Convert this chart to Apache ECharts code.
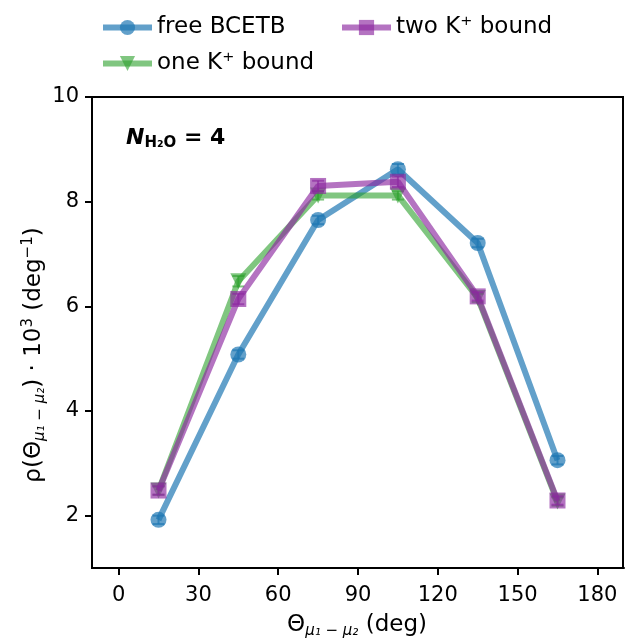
<!DOCTYPE html>
<html><head><meta charset="utf-8">
<script src="https://cdn.jsdelivr.net/npm/echarts@6/dist/echarts.min.js"></script>
<style>html,body{margin:0;padding:0;background:#fff}#c{width:626px;height:639px}</style>
</head><body><div id="c"></div>
<script>
const angles = [15, 45, 75, 105, 135, 165];
const freeVals = [1.92, 5.08, 7.65, 8.62, 7.21, 3.06];
const freeErr = [0.08, 0.08, 0.08, 0.1, 0.08, 0.08];
const oneVals = [2.48, 6.48, 8.12, 8.12, 6.16, 2.27];
const oneErr = [0.08, 0.1, 0.08, 0.08, 0.08, 0.08];
const twoVals = [2.48, 6.14, 8.30, 8.38, 6.19, 2.29];
const twoErr = [0.08, 0.1, 0.1, 0.1, 0.08, 0.08];
const xTicks = [0, 30, 60, 90, 120, 150, 180];
const yTicks = [2, 4, 6, 8, 10];
const seriesNames = ['free BCETB', 'one K⁺ bound', 'two K⁺ bound'];

const FONT = 'DejaVu Sans';
const colors = ['#1f77b4', '#2ca02c', '#8c28a0'];
const alphas = [0.7, 0.6, 0.65];
const symbols = ['circle', 'triangle', 'rect'];
const rots = [0, 180, 0];
const sizes = [16, 16, 16];

const chart = echarts.init(document.getElementById('c'), null, {renderer: 'canvas'});

function pairs(vals) { return angles.map((a, i) => [a, vals[i]]); }
function errData(vals, errs) { return angles.map((a, i) => [a, vals[i] - errs[i], vals[i] + errs[i]]); }

const allVals = [freeVals, oneVals, twoVals];
const allErr = [freeErr, oneErr, twoErr];

const series = [];
for (let k = 0; k < 3; k++) {
  series.push({
    type: 'custom',
    name: seriesNames[k] + ' err',
    data: errData(allVals[k], allErr[k]),
    z: 2 + k,
    silent: true,
    renderItem: function (params, api) {
      const x = api.value(0);
      const lo = api.coord([x, api.value(1)]);
      const hi = api.coord([x, api.value(2)]);
      const w = 6;
      const st = {stroke: colors[k], lineWidth: 2, opacity: alphas[k]};
      return {
        type: 'group',
        children: [
          {type: 'line', shape: {x1: lo[0], y1: lo[1], x2: hi[0], y2: hi[1]}, style: st},
          {type: 'line', shape: {x1: lo[0] - w, y1: lo[1], x2: lo[0] + w, y2: lo[1]}, style: st},
          {type: 'line', shape: {x1: hi[0] - w, y1: hi[1], x2: hi[0] + w, y2: hi[1]}, style: st}
        ]
      };
    }
  });
  series.push({
    type: 'line',
    name: seriesNames[k],
    data: pairs(allVals[k]),
    z: 2 + k,
    symbol: symbols[k],
    symbolSize: sizes[k],
    symbolRotate: rots[k],
    showAllSymbol: true,
    lineStyle: {color: colors[k], width: 6, opacity: alphas[k]},
    itemStyle: {color: colors[k], opacity: alphas[k], borderWidth: 0},
    emphasis: {disabled: true},
    animation: false
  });
}

const legendText = {fontFamily: FONT, fontSize: 23, color: '#000'};
const legendCommon = {
  orient: 'vertical', top: 16, padding: 0, itemWidth: 49, itemHeight: 19, itemGap: 13,
  textStyle: legendText, lineStyle: {width: 6}, selectedMode: false
};

chart.setOption({
  animation: false,
  backgroundColor: '#fff',
  grid: {left: 92, right: 2, top: 97, bottom: 71, containLabel: false},
  legend: [
    Object.assign({data: [seriesNames[0], seriesNames[1]], left: 100}, legendCommon),
    Object.assign({data: [seriesNames[2]], left: 339}, legendCommon)
  ],
  xAxis: {
    type: 'value', min: -10, max: 190,
    axisLine: {show: true, onZero: false, lineStyle: {color: '#000', width: 2}},
    axisTick: {show: true, customValues: xTicks, length: 7, lineStyle: {color: '#000', width: 2}},
    axisLabel: {customValues: xTicks, margin: 17, fontFamily: FONT, fontSize: 21, color: '#000'},
    splitLine: {show: false}
  },
  yAxis: {
    type: 'value', min: 1, max: 10,
    axisLine: {show: true, onZero: false, lineStyle: {color: '#000', width: 2}},
    axisTick: {show: true, customValues: yTicks, length: 7, lineStyle: {color: '#000', width: 2}},
    axisLabel: {customValues: yTicks, margin: 13, fontFamily: FONT, fontSize: 21, color: '#000'},
    splitLine: {show: false}
  },
  graphic: [
    {type: 'rect', shape: {x: 92, y: 97, width: 531, height: 471}, style: {fill: 'none', stroke: '#000', lineWidth: 2}, silent: true, z: 10},
    {type: 'text', left: 126, top: 127, z: 20,
     style: {
       text: '{n|N}{s|H₂O}{b| = 4}',
       rich: {
         n: {fontFamily: FONT, fontSize: 22, fontWeight: 'bold', fontStyle: 'italic', fill: '#000'},
         s: {fontFamily: FONT, fontSize: 15, fontWeight: 'bold', fill: '#000', padding: [10, 0, 0, 0]},
         b: {fontFamily: FONT, fontSize: 22, fontWeight: 'bold', fill: '#000'}
       }
     }},
    {type: 'text', x: 357, y: 625, z: 20,
     style: {
       text: '{t|Θ}{s|μ₁ − μ₂}{t| (deg)}',
       align: 'center', verticalAlign: 'middle',
       rich: {
         t: {fontFamily: FONT, fontSize: 23, fill: '#000'},
         s: {fontFamily: FONT, fontSize: 15, fontStyle: 'italic', fill: '#000', padding: [13, 0, 0, 0]}
       }
     }},
    {type: 'text', x: 34, y: 355, rotation: Math.PI / 2, z: 20,
     style: {
       text: '{t|ρ(Θ}{s|μ₁ − μ₂}{t|) · 10}{p|3}{t| (deg}{p|−1}{t|)}',
       align: 'center', verticalAlign: 'middle',
       rich: {
         t: {fontFamily: FONT, fontSize: 23, fill: '#000'},
         s: {fontFamily: FONT, fontSize: 15, fontStyle: 'italic', fill: '#000', padding: [13, 0, 0, 0]},
         p: {fontFamily: FONT, fontSize: 15, fill: '#000', padding: [0, 0, 11, 0]}
       }
     }}
  ],
  series: series
});
</script>
</body></html>
